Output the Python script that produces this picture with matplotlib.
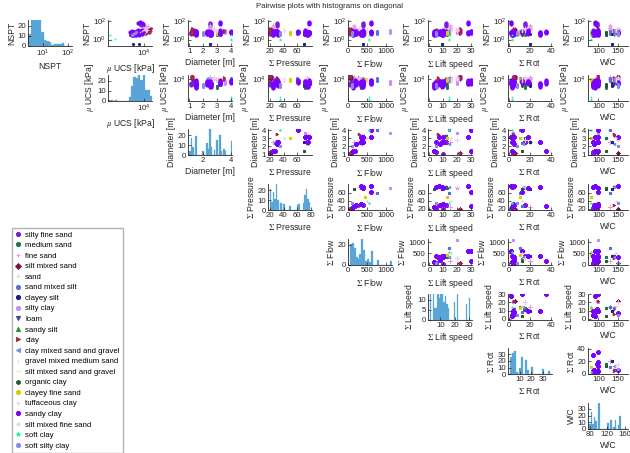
import numpy as np
import matplotlib.pyplot as plt
from matplotlib.lines import Line2D

plt.rcParams['font.family'] = ['Liberation Sans', 'DejaVu Sans']
plt.rcParams['mathtext.fontset'] = 'stix'

soil_names = ['silty fine sand', 'medium sand', 'fine sand', 'silt mixed sand', 'sand',
              'sand mixed silt', 'clayey silt', 'silty clay', 'loam', 'sandy silt', 'clay',
              'clay mixed sand and gravel', 'gravel mixed medium sand',
              'silt mixed sand and gravel', 'organic clay', 'clayey fine sand',
              'tuffaceous clay', 'sandy clay', 'silt mixed fine sand', 'soft clay',
              'soft silty clay']
soil_colors = ['#7b1fd6', '#1b7a4a', '#e59be8', '#7a1450', '#cfe3cf', '#5b6de0', '#1c1c8a',
               '#c58bff', '#3b4a8c', '#2e8b3e', '#b0224e', '#6f8fe6', '#bfe4ef', '#e4e4a8',
               '#1f5a2a', '#d4d000', '#f0c8ff', '#7a00ff', '#f2cfe0', '#25f59a', '#8a8ae6']
soil_markers = ['o', 'o', '+', 'D', '+', 'o', 'o', 'o', 'v', '^', '>', '<', '|', '_',
                'h', 'o', '+', 'o', '.', '*', 'o']

# one row per site (machine settings), n = number of samples at the site
site_soil = [10, 0, 17, 14, 17, 17, 0, 5, 11, 17, 15, 19, 17, 8, 10,
             1, 17, 17, 7, 5, 2, 16, 18, 17, 20, 6, 17, 3, 17, 0]
site_n = [12, 8, 10, 4, 8, 10, 12, 6, 4, 8, 4, 3, 6, 4, 6,
          5, 8, 6, 4, 5, 8, 5, 6, 5, 4, 3, 6, 5, 5, 4]
site_diam = [1.2, 1.3, 1.5, 1.5, 2.3, 2.5, 2.5, 2.4, 2.3, 2.6, 3.0, 4.0, 3.2, 3.3, 3.5,
             3.0, 3.2, 4.0, 3.6, 4.0, 2.5, 2.8, 3.0, 1.5, 2.0, 2.5, 3.2, 1.2, 2.5, 1.1]
site_press = [20, 22, 24, 70, 30, 32, 30, 28, 75, 75, 50, 35, 72, 75, 30,
              72, 78, 62, 72, 60, 25, 75, 40, 28, 35, 70, 77, 21, 76, 20]
site_flow = [60, 100, 130, 150, 200, 350, 380, 250, 350, 400, 450, 550, 380, 400, 300,
             350, 600, 600, 1100, 750, 150, 300, 500, 180, 100, 400, 350, 70, 370, 50]
site_lift = [22, 5, 3, 3, 8, 10, 12, 8, 14, 9, 13, 14, 10, 12, 6,
             13, 28, 30, 20, 14, 15, 20, 16, 30, 5, 9, 7, 22, 5, 10]
site_rot = [5, 4, 3, 12, 5, 4, 15, 12, 13, 30, 10, 3, 18, 5, 4,
            15, 2, 12, 4, 10, 20, 15, 12, 35, 8, 20, 5, 6, 3, 4]
site_wc = [100, 85, 90, 120, 88, 100, 95, 100, 140, 85, 80, 80, 100, 140, 140,
           120, 92, 100, 100, 130, 130, 150, 145, 100, 150, 135, 150, 150, 85, 85]

nspt = [4, 5, 6, 8, 10, 12, 15, 7, 5, 9, 20, 6,
        5, 6, 7, 4, 8, 10, 5, 6,
        3, 4, 5, 6, 4, 5, 7, 8, 3, 4,
        3, 4, 5, 6,
        4, 5, 6, 7, 8, 5, 4, 6,
        3, 4, 5, 6, 4, 5, 7, 3, 4, 5,
        5, 6, 7, 8, 30, 40, 50, 60, 6, 7, 5, 8,
        4, 6, 8, 5, 7, 10,
        4, 6, 8, 10,
        3, 4, 5, 6, 3, 4, 5, 7,
        4, 5, 6, 7,
        1.0, 1.2, 3,
        5, 6, 8, 10, 4, 6,
        3, 4, 5, 6,
        6, 8, 10, 12, 7, 9,
        3, 4, 5, 6, 4,
        4, 5, 6, 7, 50, 60, 70, 5,
        5, 6, 7, 8, 6, 7,
        5, 6, 8, 10,
        4, 5, 6, 7, 8,
        10, 15, 20, 30, 40, 25, 12, 18,
        8, 10, 12, 15, 20,
        6, 8, 10, 12, 15, 9,
        5, 6, 7, 8, 6,
        3, 4, 5, 6,
        0.3, 0.3, 4,
        4, 5, 6, 7, 5, 6,
        5, 7, 9, 12, 15,
        3, 4, 5, 6, 4,
        4, 5, 6, 5]
ucs = [12000, 15000, 18000, 20000, 14000, 16000, 11000, 17000, 19000, 13000, 21000, 15000,
       5000, 6000, 7000, 4500, 8000, 5500, 6500, 7500,
       3000, 3500, 4000, 2500, 5000, 4500, 3800, 3200, 6000, 2800,
       4000, 5000, 3500, 4500,
       5000, 6000, 4500, 7000, 5500, 6500, 4000, 8000,
       4000, 5000, 6000, 7000, 5500, 4500, 6500, 3500, 8000, 5000,
       6000, 7000, 8000, 9000, 10000, 7500, 6500, 8500, 5500, 9500, 7000, 6000,
       6000, 7000, 8000, 5000, 9000, 7500,
       8000, 9000, 12000, 10000,
       3000, 4000, 5000, 3500, 4500, 5500, 6000, 3800,
       9000, 10000, 8000, 11000,
       400, 600, 350,
       6000, 7000, 5000, 8000, 6500, 7500,
       4000, 5000, 6000, 4500,
       9000, 11000, 13000, 10000, 12000, 14000,
       2500, 3000, 3500, 2800, 3200,
       5000, 6000, 7000, 8000, 9000, 5500, 6500, 4500,
       6000, 7000, 8000, 6500, 7500, 9000,
       5000, 6000, 7000, 8000,
       8000, 9000, 10000, 11000, 12000,
       8000, 10000, 12000, 15000, 9000, 11000, 13000, 14000,
       10000, 12000, 14000, 9000, 11000,
       7000, 8000, 9000, 10000, 11000, 12000,
       6000, 7000, 8000, 5000, 9000,
       3000, 3500, 4000, 4500,
       3500, 6000, 4000,
       5000, 6000, 7000, 4500, 5500, 6500,
       12000, 14000, 16000, 10000, 18000,
       3000, 3500, 4000, 4500, 5000,
       4000, 5000, 6000, 4500]

labels = ['NSPT', r'$\mu$ UCS [kPa]', 'Diameter [m]', r'$\Sigma$ Pressure', r'$\Sigma$ Flow',
          r'$\Sigma$ Lift speed', r'$\Sigma$ Rot', 'W/C']

cols = [np.array(nspt, float), np.array(ucs, float),
        np.repeat(site_diam, site_n), np.repeat(site_press, site_n),
        np.repeat(site_flow, site_n), np.repeat(site_lift, site_n),
        np.repeat(site_rot, site_n), np.repeat(site_wc, site_n)]
soil = np.repeat(site_soil, site_n)

is_log = [True, True, False, False, False, False, False, False]
lims = [(0.2, 130), (300, 22000), (0.9, 4.1), (17, 82), (0, 1150), (-1, 31), (-1, 41), (73, 176)]
ticks = [[1, 100], [1e4], [1, 2, 3, 4], [20, 40, 60], [0, 500, 1000], [0, 10, 20, 30],
         [0, 20, 40], [100, 150]]
hist_lims = [(2.6, 150), (300, 22000), (0.9, 4.1), (17, 82), (0, 1150), (1.5, 32), (0, 38), (75, 168)]
hist_xticks = [[10, 100], [1e4], [2, 4], [20, 40, 60, 80], [0, 500, 1000], [10, 20, 30],
               [10, 20, 30], [80, 120, 160]]
hist_yticks = [[0, 10, 20], [0, 10, 20], [0, 10, 20], [0, 10, 20], [0, 20], [0, 5, 10],
               [0, 10, 20, 30], [0, 10, 20, 30]]
hist_bins = [18, 20, 32, 30, 24, 30, 24, 28]

W, H = 630, 453
fig = plt.figure(figsize=(6.3, 4.53), dpi=100)
fs = 5.6


def style(ax):
    for s in ['top', 'right']:
        ax.spines[s].set_visible(False)
    for s in ['left', 'bottom']:
        ax.spines[s].set_linewidth(0.6)
        ax.spines[s].set_color('#262626')
    ax.tick_params(direction='in', length=2, width=0.5, labelsize=fs, pad=1.5,
                   colors='#262626')
    ax.minorticks_off()


for r in range(8):
    for c in range(r, 8):
        left = (28 + 80 * c) / W
        top = 20 + 54.7 * r
        w = 44 if c < 7 else 40
        ax = fig.add_axes([left, 1 - (top + 26) / H, w / W, 26 / H])
        if r == c:
            v = cols[c]
            lo, hi = hist_lims[c]
            if is_log[c]:
                edges = np.logspace(np.log10(lo), np.log10(hi), hist_bins[c])
                ax.set_xscale('log')
            else:
                edges = np.linspace(lo, hi, hist_bins[c])
            ax.hist(v, bins=edges, color='#5aa5d8', edgecolor='#5aa5d8', linewidth=0.2)
            ax.set_xlim(lo, hi)
            ax.set_xticks(hist_xticks[c])
            ax.set_yticks(hist_yticks[c])
            ax.set_ylim(0, max(hist_yticks[c]) * 1.3)
        else:
            x, y = cols[c], cols[r]
            for k in range(len(soil_names)):
                m = soil == k
                if not m.any():
                    continue
                ms = 9 if k in (0, 17) else 5
                ax.scatter(x[m], y[m], s=ms, c=soil_colors[k], marker=soil_markers[k],
                           linewidths=0.6 if soil_markers[k] in '+|_' else 0)
            if is_log[c]:
                ax.set_xscale('log')
            if is_log[r]:
                ax.set_yscale('log')
            ax.set_xlim(lims[c])
            ax.set_ylim(lims[r])
            ax.set_xticks(ticks[c])
            ax.set_yticks(ticks[r])
        style(ax)
        ax.set_xlabel(labels[c], fontsize=fs + 0.6, labelpad=2, color='#262626')
        ax.set_ylabel(labels[r], fontsize=fs + 0.6, labelpad=1, color='#262626')

fig.text(330 / W, 1 - 7 / H, 'Pairwise plots with histograms on diagonal',
         ha='center', va='center', fontsize=fs, color='#262626')

handles = [Line2D([], [], linestyle='none', marker=soil_markers[k], color=soil_colors[k],
                  markersize=3 if soil_markers[k] != '.' else 4, markeredgewidth=0.7)
           for k in range(len(soil_names))]
fig.legend(handles, soil_names, loc='upper left', bbox_to_anchor=(12 / W, 1 - 228 / H),
           fontsize=fs, frameon=True, fancybox=False, edgecolor='#a0a0a0',
           labelspacing=0.4, handlelength=0.8, handletextpad=0.5, borderpad=0.4,
           borderaxespad=0)

fig.savefig('out.png', dpi=100)
